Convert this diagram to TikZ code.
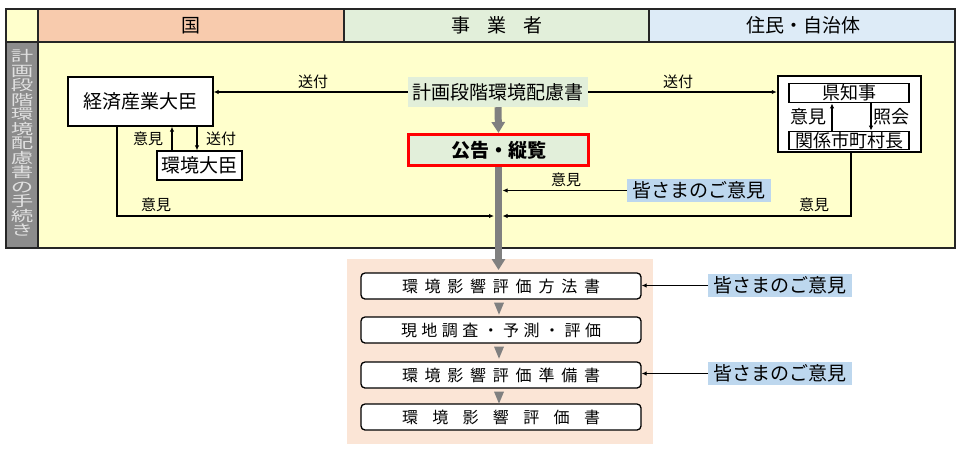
\documentclass[tikz,border=0pt]{standalone}
\usepackage{fontspec}
\setmainfont{Noto Sans CJK JP}
\usepackage{graphicx}
\usetikzlibrary{arrows.meta,calc,positioning}

\definecolor{bodyyellow}{HTML}{FFFFCC}
\definecolor{kunihead}{HTML}{F8CBAD}
\definecolor{jigyohead}{HTML}{E2EFDA}
\definecolor{juminhead}{HTML}{DDEBF7}
\definecolor{sidegray}{HTML}{8C8C8C}
\definecolor{flowgray}{HTML}{808080}
\definecolor{opinionblue}{HTML}{BDD7EE}
\definecolor{pinkbg}{HTML}{FBE5D6}
\definecolor{alertred}{HTML}{FF0000}

\newcommand{\fsHead}{\fontsize{19pt}{21pt}\selectfont}
\newcommand{\fsMain}{\fontsize{19pt}{21pt}\selectfont}
\newcommand{\fsLbl}{\fontsize{15pt}{17pt}\selectfont}
\newcommand{\fsPref}{\fontsize{18pt}{20pt}\selectfont}
\newcommand{\fsStep}{\fontsize{16pt}{18pt}\selectfont}
\newcommand{\fsSide}{\fontsize{14.5pt}{14.5pt}\selectfont}
\newcommand{\sidechar}[1]{\scalebox{1.55}[1]{#1}}

\begin{document}
\begin{tikzpicture}[x=1pt,y=-1pt,>={Latex[length=5pt,width=4.5pt]},
    box/.style={draw,line width=1.3pt,fill=white,inner sep=0pt,font=\fsMain},
    lbl/.style={inner sep=0pt,font=\fsLbl},
    head/.style={inner sep=0pt,font=\fsHead},
    conn/.style={line width=1.2pt},
    flowline/.style={flowgray,line width=7pt,-{Triangle[length=11pt,width=13pt]}},
    opinion/.style={fill=opinionblue,inner sep=0pt,minimum width=144pt,minimum height=23pt,font=\fsMain},
    stepbox/.style={draw,line width=1.3pt,fill=white,rounded corners=4pt,inner sep=0pt,
      minimum width=280pt,minimum height=26pt,font=\fsStep},
    prefbox/.style={draw,line width=1.8pt,fill=white,inner sep=0pt,minimum width=120pt,font=\fsPref}]
  \useasboundingbox (0,0) rectangle (971,451);

  % table
  \fill[bodyyellow] (6,9) rectangle (38,42);
  \fill[kunihead] (38,9) rectangle (344,42);
  \fill[jigyohead] (344,9) rectangle (649,42);
  \fill[juminhead] (649,9) rectangle (955,42);
  \fill[sidegray] (6,42) rectangle (38,248);
  \fill[bodyyellow] (38,42) rectangle (955,248);
  \draw[line width=1.6pt,black!85] (6,9) rectangle (955,248);
  \draw[line width=1.6pt,black!85] (6,42) -- (955,42);
  \draw[line width=1.6pt,black!85] (38,9) -- (38,248);
  \draw[line width=1.6pt,black!85] (344,9) -- (344,42);
  \draw[line width=1.6pt,black!85] (649,9) -- (649,42);

  \node[head] (hKuni) at (191,25.5) {国};
  \node[head] (hJigyo) at (497,25.5) {事\hspace{0.9em}業\hspace{0.9em}者};
  \node[head] (hJumin) at (803,25.5) {住民・自治体};
  \node[inner sep=0pt,align=center,font=\fsSide,text=black!12] (side) at (22,143)
    {\sidechar{計}\\\sidechar{画}\\\sidechar{段}\\\sidechar{階}\\\sidechar{環}\\\sidechar{境}\\\sidechar{配}\\
     \sidechar{慮}\\\sidechar{書}\\\sidechar{の}\\\sidechar{手}\\\sidechar{続}\\\sidechar{き}};

  % lower area
  \fill[pinkbg] (347,259) rectangle (653,444);

  % nodes
  \node[box,minimum width=145pt,minimum height=49pt] (meti) at (140.5,101.5) {経済産業大臣};
  \node[box,minimum width=85pt,minimum height=29pt] (moe) at (199.5,165.5) {環境大臣};
  \node[fill=jigyohead,inner sep=0pt,minimum width=180pt,minimum height=30pt,font=\fsMain] (keikaku) at (498,92) {計画段階環境配慮書};
  \node[draw=alertred,line width=3pt,fill=jigyohead,inner sep=0pt,minimum width=180pt,minimum height=31pt,
    font=\fsMain\bfseries] (kokoku) at (498.5,150) {公告・縦覧};
  \node[opinion] (minasanA) at (699,190.5) {皆さまのご意見};

  \node[draw,line width=2.5pt,fill=white,minimum width=143pt,minimum height=76pt] (pref) at (849.5,114) {};
  \node[prefbox,minimum height=19pt] (chiji) at (849,93) {県知事};
  \node[prefbox,minimum height=18pt] (shicho) at (849,140.5) {関係市町村長};
  \node[inner sep=0pt,font=\fsPref] (lblIkenP) at (808,116.5) {意見};
  \node[inner sep=0pt,font=\fsPref] (lblShokai) at (891,116.5) {照会};

  \node[stepbox] (hohosho) at (501,286) {\makebox[198pt]{環\hfill 境\hfill 影\hfill 響\hfill 評\hfill 価\hfill 方\hfill 法\hfill 書}};
  \node[stepbox] (chosa) at (501,330) {\makebox[200pt]{現\hfill 地\hfill 調\hfill 査\hfill ・\hfill 予\hfill 測\hfill ・\hfill 評\hfill 価}};
  \node[stepbox] (junbisho) at (501,375) {\makebox[198pt]{環\hfill 境\hfill 影\hfill 響\hfill 評\hfill 価\hfill 準\hfill 備\hfill 書}};
  \node[stepbox] (hyokasho) at (501,417) {\makebox[198pt]{環\hfill 境\hfill 影\hfill 響\hfill 評\hfill 価\hfill 書}};
  \node[opinion] (minasanB) at (780,285.5) {皆さまのご意見};
  \node[opinion] (minasanC) at (780,373.5) {皆さまのご意見};

  % labels
  \node[lbl] (lblSofuL) at (313,82) {送付};
  \node[lbl] (lblSofuR) at (678,82) {送付};
  \node[lbl] (lblIkenMoe) at (148,139) {意見};
  \node[lbl] (lblSofuMoe) at (221,139) {送付};
  \node[lbl] (lblIkenL) at (156,205) {意見};
  \node[lbl] (lblIkenC) at (566,180) {意見};
  \node[lbl] (lblIkenR) at (814,205) {意見};

  % connectors
  \coordinate (mergeL) at (494,216);
  \coordinate (mergeR) at (502.5,216);
  \coordinate (mergeC) at (502.5,191);
  \coordinate (flowend) at (498.5,270);

  \draw[conn,->] (keikaku.west) -- (keikaku.west -| meti.east);
  \draw[conn,->] (keikaku.east) -- (keikaku.east -| pref.west);
  \draw[conn,->] ([xshift=-27.5pt]moe.north) -- ([xshift=-27.5pt]moe.north |- meti.south);
  \draw[conn,->] ([xshift=-2.5pt]moe.north |- meti.south) -- ([xshift=-2.5pt]moe.north);
  \draw[conn,->] ([xshift=-23.5pt]meti.south) |- (mergeL);
  \draw[conn,->] ([xshift=1.5pt]pref.south) |- (mergeR);
  \draw[conn,->] (minasanA.west) -- (minasanA.west -| mergeC);
  \draw[conn,->] ([xshift=-17pt]shicho.north) -- ([xshift=-17pt]chiji.south);
  \draw[conn,->] ([xshift=22pt]chiji.south) -- ([xshift=22pt]shicho.north);
  \draw[conn,->] (minasanB.west) -- (minasanB.west -| hohosho.east);
  \draw[conn,->] (minasanC.west) -- (minasanC.west -| junbisho.east);

  \draw[flowline] (keikaku.south) -- (kokoku.north);
  \draw[flowline] (kokoku.south) -- (flowend);

  % small triangles between steps
  \fill[flowgray] ($(hohosho.south)+(-7,3)$) -- ++(10,0) -- ++(-5,12) -- cycle;
  \fill[flowgray] ($(chosa.south)+(-7,3)$) -- ++(10,0) -- ++(-5,12) -- cycle;
  \fill[flowgray] ($(junbisho.south)+(-7,3)$) -- ++(10,0) -- ++(-5,12) -- cycle;
\end{tikzpicture}
\end{document}
